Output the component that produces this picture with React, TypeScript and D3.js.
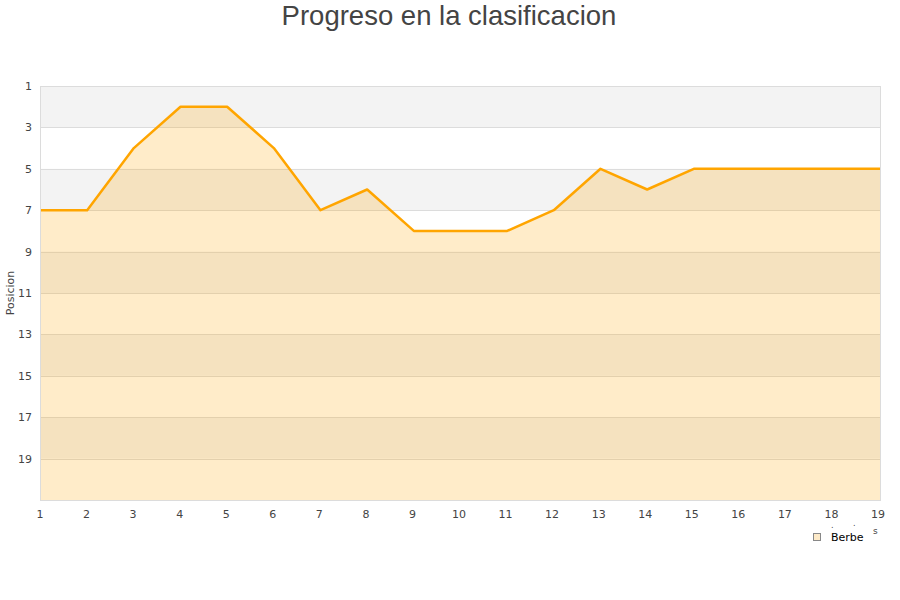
import React from "react";
import * as d3 from "d3";

const jornadas = [1, 2, 3, 4, 5, 6, 7, 8, 9, 10, 11, 12, 13, 14, 15, 16, 17, 18, 19];
const posiciones = [7, 7, 4, 2, 2, 4, 7, 6, 8, 8, 8, 7, 5, 6, 5, 5, 5, 5, 5];
const yTicks = [1, 3, 5, 7, 9, 11, 13, 15, 17, 19];
const bandStarts = [1, 5, 9, 13, 17];
const seriesName = "Berbe";
const title = "Progreso en la clasificacion";
const yTitle = "Posicion";

export default function App() {
  const W = 900, H = 600;
  const L = 40.5, R = 880.5, T = 86, B = 500;
  const x = d3.scaleLinear().domain([1, 19]).range([L, R]);
  const y = d3.scaleLinear().domain([1, 21]).range([T, B]);
  const data = jornadas.map((j, i) => ({ j, p: posiciones[i] }));
  const line = d3.line<any>().x(d => x(d.j)).y(d => y(d.p));
  const area = d3.area<any>().x(d => x(d.j)).y0(y(21)).y1(d => y(d.p));
  const tickFont = "DejaVu Sans, sans-serif";
  const xl = d3.scaleLinear().domain([1, 19]).range([40, 878]);
  return (
    <svg width={W} height={H} style={{ position: "absolute", left: 0, top: 0, background: "#fff" }}>
      <rect x={0} y={0} width={W} height={H} fill="#fff" />
      <text x={449} y={25} textAnchor="middle" fontFamily="Liberation Sans, Arial, sans-serif" fontSize={27.5} fill="#444">{title}</text>
      {bandStarts.map(b => (
        <rect key={b} x={L} y={y(b)} width={R - L} height={y(b + 2) - y(b)} fill="#f3f3f3" />
      ))}
      {yTicks.slice(1).map(t => (
        <line key={t} x1={L} x2={R} y1={Math.round(y(t)) + 0.5} y2={Math.round(y(t)) + 0.5} stroke="#dcdcdc" strokeWidth={1} />
      ))}
      <path d={area(data) || ""} fill="#ffa500" fillOpacity={0.21} />
      <path d={line(data) || ""} fill="none" stroke="#ffa500" strokeWidth={2.5} strokeLinejoin="round" />
      <rect x={L} y={T + 0.5} width={R - L} height={B - T} fill="none" stroke="#dcdcdc" strokeWidth={1} />
      {yTicks.map(t => (
        <text key={t} x={32} y={y(t) + 4} textAnchor="end" fontFamily={tickFont} fontSize={11} fill="#444">{t}</text>
      ))}
      {jornadas.map(j => (
        <text key={j} x={xl(j)} y={518} textAnchor="middle" fontFamily={tickFont} fontSize={11} fill="#444">{j}</text>
      ))}
      <text transform={`translate(14,${(T + B) / 2}) rotate(-90)`} textAnchor="middle" fontFamily={tickFont} fontSize={11} fill="#444">{yTitle}</text>
      <text x={831} y={528} fontFamily={tickFont} fontSize={8} fill="#444">.</text>
      <text x={853} y={526} fontFamily={tickFont} fontSize={8} fill="#444">.</text>
      <text x={873} y={534} fontFamily={tickFont} fontSize={9} fill="#444">s</text>
      <rect x={813.5} y={533.5} width={7} height={7} fill="#fdeac8" stroke="#888" strokeWidth={1} />
      <text x={831} y={541} fontFamily={tickFont} fontSize={11} fill="#000">{seriesName}</text>
    </svg>
  );
}
